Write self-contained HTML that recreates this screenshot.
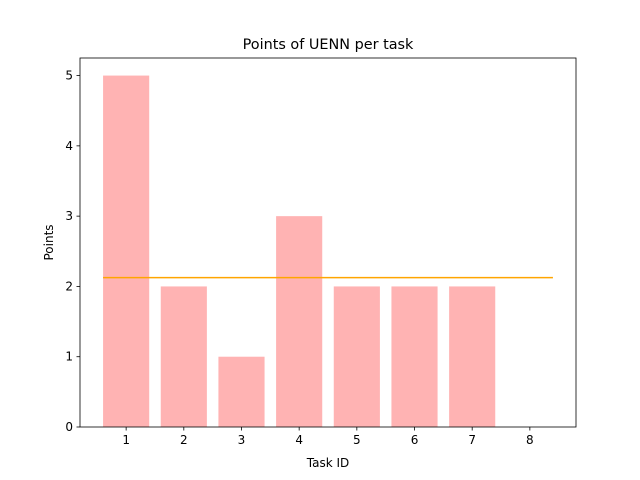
<!DOCTYPE html>
<html><head><meta charset="utf-8"><style>body{margin:0;background:#fff}svg{display:block}text{font-family:"DejaVu Sans","Liberation Sans",sans-serif;fill:#000}</style></head>
<body>
<svg id="chart" width="640" height="480"></svg>
<script>
const categories=[1,2,3,4,5,6,7,8];
const points=[5,2,1,3,2,2,2,0];
const yTicks=[0,1,2,3,4,5];
const meanValue=[2.125];
const L=80,R=576,T=58,B=427;
const xMin=0.2,xMax=8.8,yMin=0,yMax=5.25;
const xs=v=>L+(v-xMin)/(xMax-xMin)*(R-L);
const ys=v=>B-(v-yMin)/(yMax-yMin)*(B-T);
const svg=document.getElementById('chart');
const NS='http://www.w3.org/2000/svg';
function mk(tag,attrs,parent){const e=document.createElementNS(NS,tag);for(const k in attrs)e.setAttribute(k,attrs[k]);(parent||svg).appendChild(e);return e;}
categories.forEach((c,i)=>{
  const r=mk('rect',{x:xs(c-0.4),y:ys(points[i]),width:xs(c+0.4)-xs(c-0.4),height:ys(0)-ys(points[i]),fill:'#ffb3b3'});
  
  
});
const ml=mk('line',{x1:xs(0.6),x2:xs(8.4),y1:ys(meanValue[0]),y2:ys(meanValue[0]),stroke:'orange','stroke-width':1.5});


const fr=mk('rect',{x:L,y:T,width:R-L,height:B-T,fill:'none',stroke:'#000','stroke-width':0.8});


categories.forEach(c=>{
  mk('line',{x1:xs(c),x2:xs(c),y1:B,y2:B+3.5,stroke:'#000','stroke-width':0.8});
  const t=mk('text',{x:xs(c),y:B+17,'text-anchor':'middle','font-size':12});
  t.textContent=c;
  
  
});
yTicks.forEach(v=>{
  mk('line',{x1:L-3.5,x2:L,y1:ys(v),y2:ys(v),stroke:'#000','stroke-width':0.8});
  const t=mk('text',{x:L-7,y:ys(v)+4,'text-anchor':'end','font-size':12});
  t.textContent=v;
  
  
});
const xt=mk('text',{x:(L+R)/2,y:467,'text-anchor':'middle','font-size':12});
xt.textContent='Task ID';


const yt=mk('text',{x:0,y:0,'text-anchor':'middle','font-size':12,transform:`translate(53,${(T+B)/2}) rotate(-90)`});
yt.textContent='Points';


const tt=mk('text',{x:(L+R)/2,y:49,'text-anchor':'middle','font-size':14.4});
tt.textContent='Points of UENN per task';


</script>
</body></html>
